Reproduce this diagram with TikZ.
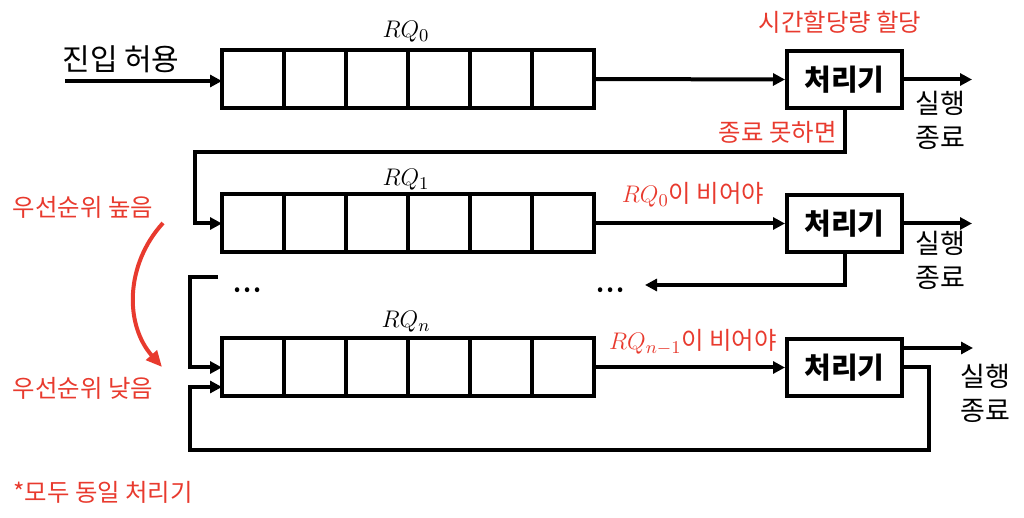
\documentclass[tikz,border=0pt]{standalone}
\usepackage{fontspec}
\setmainfont{Noto Sans CJK KR}
\usepackage{amsmath}
\usetikzlibrary{arrows.meta,positioning}
\definecolor{lblred}{RGB}{232,58,46}
\tikzset{
  cell/.style    ={draw=black,line width=2pt,minimum width=31pt,minimum height=29pt,
                   inner sep=0pt,outer sep=0pt},
  proc/.style    ={draw=black,line width=2pt,minimum width=57.5pt,minimum height=28.5pt,
                   inner sep=0pt,font=\fontsize{14.5}{16}\selectfont\bfseries},
  ln/.style      ={draw=black,line width=2pt},
  ed/.style      ={->,draw=black,line width=2pt},
  redtxt/.style  ={text=lblred,inner sep=0pt,font=\fontsize{12.2}{14}\selectfont},
  qlbl/.style    ={inner sep=0pt,font=\fontsize{13}{15}\selectfont},
  done/.style    ={align=center,inner sep=0pt,font=\fontsize{13.5}{17}\selectfont},
  dots/.style    ={inner sep=0pt,font=\fontsize{9}{9}\selectfont},
}

\begin{document}
\begin{tikzpicture}[
  >={Triangle[length=6pt,width=6pt]},
  x=0.5pt, y=-0.5pt,
]
\useasboundingbox (0,0) rectangle (1024,518);

%% ---------------- queues ----------------
%% six cells per ready queue, 62px wide
\foreach \q/\yy in {0/79, 1/223.5, n/367.5}{
  \foreach \k in {1,...,6}{
    \node[cell] (q\q c\k) at ({222+31+62*(\k-1)}, \yy) {};
  }
}
\node[qlbl] (l0) at (406, 32)  {$RQ_0$};
\node[qlbl] (l1) at (406, 180) {$RQ_1$};
\node[qlbl] (ln) at (406, 322) {$RQ_n$};

%% ---------------- processors ----------------
\node[proc] (p0) at (844.5, 79.5)  {처리기};
\node[proc] (p1) at (844.5, 223.5) {처리기};
\node[proc] (pn) at (844.5, 367.5) {처리기};

%% ---------------- labels ----------------
\node[font=\fontsize{15}{17}\selectfont,inner sep=0pt] (adm) at (121, 59) {진입 허용};
\node[redtxt] (quant) at (840, 22)  {시간할당량 할당};
\node[redtxt,anchor=east] (fail) at (837, 132) {종료 못하면};
\node[redtxt] (c1) at (693, 195) {$RQ_0$이 비어야};
\node[redtxt] (cn) at (693, 342) {$RQ_{n-1}$이 비어야};
\node[redtxt] (hi) at (83, 207) {우선순위 높음};
\node[redtxt] (lo) at (83, 388) {우선순위 낮음};
\node[redtxt,anchor=west] (note) at (13, 492) {*모두 동일 처리기};

\node[done] (x0) at (940, 120) {실행\\종료};
\node[done] (x1) at (940, 260) {실행\\종료};
\node[done] (xn) at (985, 393) {실행\\종료};

\node[dots] (dl) at (247.5, 292) {\textbullet\hspace{2pt}\textbullet\hspace{2pt}\textbullet};
\node[dots] (dr) at (610.5, 292) {\textbullet\hspace{2pt}\textbullet\hspace{2pt}\textbullet};

%% ---------------- coordinates ----------------
\coordinate (in)  at (65, 81);
\coordinate (o0)  at (972, 79.5);
\coordinate (o1)  at (972, 223.5);
\coordinate (on)  at (973, 348);
\coordinate (f0)  at (195, 152);
\coordinate (f1)  at (645, 285);
\coordinate (b1)  at (218, 277);
\coordinate (b2)  at (190, 277);
\coordinate (r1)  at (929, 450);
\coordinate (r2)  at (190, 387);
\coordinate (ahi) at (163, 223);
\coordinate (alo) at (162, 367);

%% ---------------- edges ----------------
\draw[ed] (in) -- (in -| q0c1.west);
\foreach \q in {0,1,n}{
  \draw[ed] (q\q c6.east) -- (p\q.west);
}
\draw[ed] (p0.east) -- (o0);
\draw[ed] (p1.east) -- (o1);
\draw[ed] (on -| pn.east) -- (on);

%% feedback when the quantum runs out
\draw[ed] (p0.south) |- (f0) |- (q1c1.west);
\draw[ed] (p1.south) |- (f1);
\draw[ed] (b1) -- (b2) |- (qnc1.west);
\draw[ed] (pn.east) -| (r1) -| (r2) -- (r2 -| qnc1.west);

%% priority arrow
\draw[->,draw=lblred,line width=2pt,>={Triangle[length=8pt,width=7pt]}]
  (ahi) to[bend right=42] (alo);

\end{tikzpicture}
\end{document}
